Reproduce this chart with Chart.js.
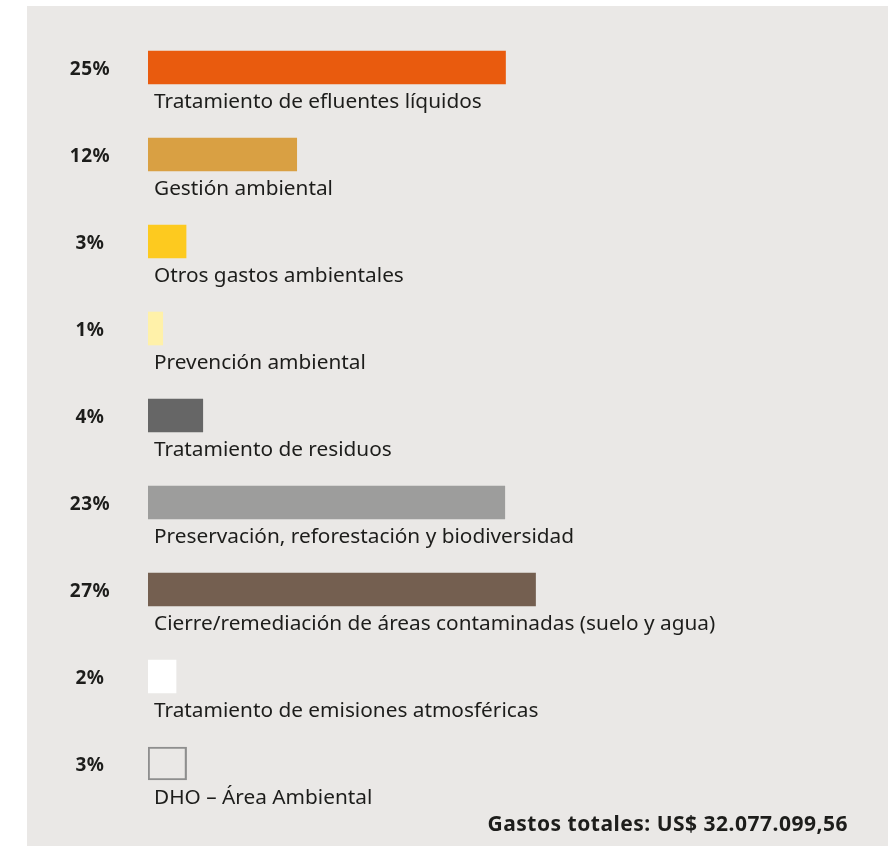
<!DOCTYPE html>
<html>
<head>
<meta charset="utf-8">
<script src="https://cdn.jsdelivr.net/npm/chart.js@4"></script>
<style>
  html, body { margin: 0; padding: 0; background: #ffffff; }
  #wrap { width: 890px; height: 846px; }
</style>
</head>
<body>
<div id="wrap"><canvas id="c" width="890" height="846"></canvas></div>
<script>
const categories = [
  'Tratamiento de efluentes líquidos',
  'Gestión ambiental',
  'Otros gastos ambientales',
  'Prevención ambiental',
  'Tratamiento de residuos',
  'Preservación, reforestación y biodiversidad',
  'Cierre/remediación de áreas contaminadas (suelo y agua)',
  'Tratamiento de emisiones atmosféricas',
  'DHO – Área Ambiental'
];
// bar lengths as drawn in the picture (percent units)
const barValues = [25, 10.4, 2.66, 1.03, 3.83, 24.95, 27.1, 1.96, 2.7];
// printed percentage labels
const pctLabels = ['25%', '12%', '3%', '1%', '4%', '23%', '27%', '2%', '3%'];
const barColors = ['#e95b0e', '#d9a043', '#fdca1f', '#fff1a9', '#666666', '#9d9d9c', '#745f50', '#ffffff', 'rgba(0,0,0,0)'];
const barBorders = ['#e95b0e', '#d9a043', '#fdca1f', '#fff1a9', '#666666', '#9d9d9c', '#745f50', '#ffffff', '#8e8e8e'];
const barBorderWidths = [0, 0, 0, 0, 0, 0, 0, 0, 1.5];
const totalText = 'Gastos totales: US$ 32.077.099,56';

const TEXT = '#1d1d1b';

const panelPlugin = {
  id: 'panel',
  beforeDraw(chart) {
    const ctx = chart.ctx;
    ctx.save();
    ctx.fillStyle = '#eae8e6';
    ctx.fillRect(27, 6, 861, 840);
    ctx.restore();
  }
};

const labelPlugin = {
  id: 'labels',
  afterDatasetsDraw(chart) {
    const ctx = chart.ctx;
    const meta = chart.getDatasetMeta(0);
    ctx.save();
    ctx.fillStyle = TEXT;
    meta.data.forEach((bar, i) => {
      // percentage label
      ctx.font = 'bold 19px "Noto Sans"';
      ctx.letterSpacing = '0.5px';
      ctx.textAlign = 'center';
      ctx.textBaseline = 'middle';
      ctx.fillText(pctLabels[i], 90, bar.y + 2);
      // category label under the bar
      ctx.font = '20.8px "Noto Sans"';
      ctx.letterSpacing = '0px';
      ctx.textAlign = 'left';
      ctx.textBaseline = 'alphabetic';
      ctx.fillText(categories[i], bar.base + 6, bar.y + 40.5);
    });
    // total
    ctx.font = 'bold 21px "Noto Sans"';
    ctx.letterSpacing = '0.5px';
    ctx.textAlign = 'right';
    ctx.textBaseline = 'alphabetic';
    ctx.fillText(totalText, 848, 831);
    ctx.restore();
  }
};

new Chart(document.getElementById('c'), {
  type: 'bar',
  data: {
    labels: categories,
    datasets: [{
      data: barValues,
      backgroundColor: barColors,
      borderColor: barBorders,
      borderWidth: barBorderWidths,
      borderSkipped: false,
      barThickness: 33
    }]
  },
  options: {
    indexAxis: 'y',
    responsive: false,
    animation: false,
    events: [],
    layout: { padding: { left: 148, right: 27, top: 24, bottom: 39 } },
    plugins: {
      legend: { display: false },
      tooltip: { enabled: false },
      title: { display: false }
    },
    scales: {
      x: { display: false, min: 0, max: 50 },
      y: { display: false, offset: true }
    }
  },
  plugins: [panelPlugin, labelPlugin]
});
</script>
</body>
</html>
